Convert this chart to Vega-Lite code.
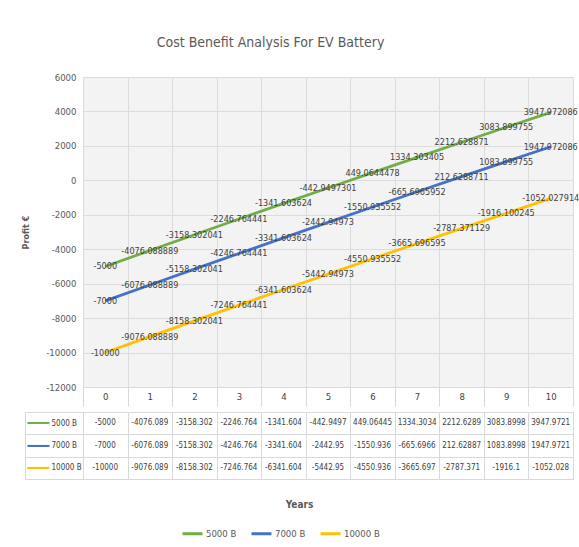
{
  "$schema": "https://vega.github.io/schema/vega-lite/v6.json",
  "padding": {"left": 21, "top": 36, "right": 6, "bottom": 5},
  "background": "white",
  "config": {
    "locale": {"number": {"decimal": ".", "thousands": ",", "grouping": [3], "currency": ["", ""], "minus": "-"}},
    "font": "DejaVu Sans Condensed",
    "view": {"stroke": null},
    "concat": {"spacing": 0}
  },
  "title": {"text": "Cost Benefit Analysis For EV Battery", "font": "DejaVu Sans Condensed", "fontSize": 14, "fontWeight": "normal", "color": "#595959", "anchor": "middle", "offset": 22, "dx": -30},
  "data": {"values": [
    {"year": 0, "series": "5000 B", "value": -5000},
    {"year": 1, "series": "5000 B", "value": -4076.088889},
    {"year": 2, "series": "5000 B", "value": -3158.302041},
    {"year": 3, "series": "5000 B", "value": -2246.764441},
    {"year": 4, "series": "5000 B", "value": -1341.603624},
    {"year": 5, "series": "5000 B", "value": -442.9497301},
    {"year": 6, "series": "5000 B", "value": 449.0644478},
    {"year": 7, "series": "5000 B", "value": 1334.303405},
    {"year": 8, "series": "5000 B", "value": 2212.628871},
    {"year": 9, "series": "5000 B", "value": 3083.899755},
    {"year": 10, "series": "5000 B", "value": 3947.972086},
    {"year": 0, "series": "7000 B", "value": -7000},
    {"year": 1, "series": "7000 B", "value": -6076.088889},
    {"year": 2, "series": "7000 B", "value": -5158.302041},
    {"year": 3, "series": "7000 B", "value": -4246.764441},
    {"year": 4, "series": "7000 B", "value": -3341.603624},
    {"year": 5, "series": "7000 B", "value": -2442.94973},
    {"year": 6, "series": "7000 B", "value": -1550.935552},
    {"year": 7, "series": "7000 B", "value": -665.6965952},
    {"year": 8, "series": "7000 B", "value": 212.6288711},
    {"year": 9, "series": "7000 B", "value": 1083.899755},
    {"year": 10, "series": "7000 B", "value": 1947.972086},
    {"year": 0, "series": "10000 B", "value": -10000},
    {"year": 1, "series": "10000 B", "value": -9076.088889},
    {"year": 2, "series": "10000 B", "value": -8158.302041},
    {"year": 3, "series": "10000 B", "value": -7246.764441},
    {"year": 4, "series": "10000 B", "value": -6341.603624},
    {"year": 5, "series": "10000 B", "value": -5442.94973},
    {"year": 6, "series": "10000 B", "value": -4550.935552},
    {"year": 7, "series": "10000 B", "value": -3665.696595},
    {"year": 8, "series": "10000 B", "value": -2787.371129},
    {"year": 9, "series": "10000 B", "value": -1916.100245},
    {"year": 10, "series": "10000 B", "value": -1052.027914}
  ]},
  "vconcat": [
    {
      "width": 490,
      "height": 310,
      "view": {"fill": "#f3f3f3", "stroke": null},
      "encoding": {
        "x": {"field": "year", "type": "ordinal", "bandPosition": 0.5,
          "scale": {"type": "band", "paddingInner": 0, "paddingOuter": 0},
          "axis": {"title": null, "labelAngle": 0, "tickBand": "extent", "tickSize": 19, "tickColor": "#d9d9d9", "domain": true, "domainColor": "#d9d9d9", "labelPadding": -15, "minExtent": 19, "maxExtent": 19, "labelFont": "DejaVu Sans Condensed", "labelFontSize": 9.5, "labelColor": "#404040", "grid": true, "gridColor": "#dcdcdc"}},
        "y": {"field": "value", "type": "quantitative",
          "scale": {"domain": [-12000, 6000], "nice": false},
          "axis": {"values": [-12000, -10000, -8000, -6000, -4000, -2000, 0, 2000, 4000, 6000], "format": "d", "grid": true, "gridColor": "#dcdcdc", "domain": false, "ticks": false, "labelPadding": 7, "labelFont": "DejaVu Sans Condensed", "labelFontSize": 9.5, "labelColor": "#595959", "title": "Profit €", "titleFont": "DejaVu Sans Condensed", "titleFontSize": 9, "titleFontWeight": "bold", "titleColor": "#595959", "titlePadding": 15}}
      },
      "layer": [
        {"mark": {"type": "line", "strokeWidth": 2.8},
         "encoding": {"color": {"field": "series", "type": "nominal",
           "scale": {"domain": ["5000 B", "7000 B", "10000 B"], "range": ["#70AD47", "#4472C4", "#FFC000"]},
           "legend": {"orient": "none", "legendX": 98, "legendY": 445, "direction": "horizontal", "title": null, "symbolType": "stroke", "symbolSize": 400, "symbolStrokeWidth": 3, "labelFont": "DejaVu Sans Condensed", "labelFontSize": 9.5, "labelColor": "#595959", "columnPadding": 8, "labelOffset": 2}}}},
        {"mark": {"type": "text", "font": "DejaVu Sans Condensed", "fontSize": 9, "color": "#404040"},
         "encoding": {"text": {"field": "value", "type": "nominal"}}}
      ]
    },
    {
      "width": 490,
      "height": 67,
      "view": {"stroke": "#d9d9d9"},
      "layer": [
        {"mark": {"type": "text", "font": "DejaVu Sans Condensed", "fontSize": 8, "color": "#404040"},
         "encoding": {
           "x": {"field": "year", "type": "ordinal", "bandPosition": 0.5,
             "scale": {"type": "band", "paddingInner": 0, "paddingOuter": 0},
             "axis": {"labels": false, "ticks": false, "domain": false, "grid": true, "tickBand": "extent", "gridColor": "#d9d9d9", "title": "Years", "titlePadding": 20, "titleX": 216, "titleFont": "DejaVu Sans Condensed", "titleFontSize": 10, "titleFontWeight": "bold", "titleColor": "#595959"}},
           "y": {"field": "series", "type": "nominal", "bandPosition": 0.5,
             "scale": {"type": "band", "domain": ["5000 B", "7000 B", "10000 B"], "paddingInner": 0, "paddingOuter": 0},
             "axis": {"orient": "left", "title": null, "tickBand": "extent", "tickSize": 58, "tickColor": "#d9d9d9", "domain": false, "labelPadding": -26, "labelAlign": "left", "grid": true, "gridColor": "#d9d9d9", "labelFont": "DejaVu Sans Condensed", "labelFontSize": 8, "labelColor": "#404040"}},
           "text": {"condition": {"test": "datum.value < 0", "field": "value", "type": "quantitative", "format": ".7~g"}, "field": "value", "type": "quantitative", "format": ".8~g"}
         }},
        {"mark": {"type": "text", "opacity": 0},
         "encoding": {
           "y": {"field": "series", "type": "nominal", "bandPosition": 0.5,
             "scale": {"type": "band", "domain": ["5000 B", "7000 B", "10000 B"], "paddingInner": 0, "paddingOuter": 0},
             "axis": {"orient": "left", "title": null, "offset": 58, "ticks": false, "domain": true, "domainColor": "#d9d9d9", "grid": false, "labelPadding": -2, "labelAlign": "left", "labelOverlap": false, "labelExpr": "'━━━'", "labelFont": "DejaVu Sans", "labelFontSize": 12,
               "labelColor": {"condition": [{"test": "datum.value === '5000 B'", "value": "#70AD47"}, {"test": "datum.value === '7000 B'", "value": "#4472C4"}], "value": "#FFC000"}}},
           "text": {"value": ""}
         }}
      ],
      "resolve": {"axis": {"y": "independent"}}
    }
  ],
  "resolve": {"scale": {"color": "shared"}, "legend": {"color": "shared"}}
}
